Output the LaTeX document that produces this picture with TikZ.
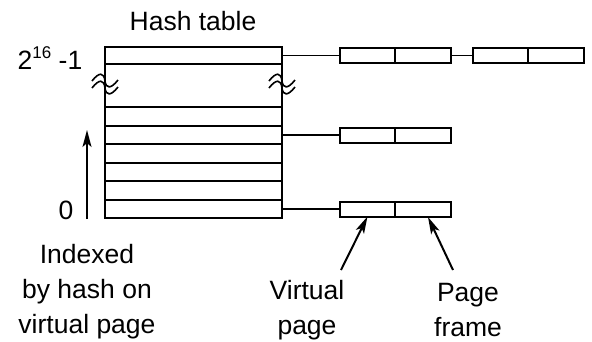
\documentclass[tikz,border=0pt]{standalone}
\usepackage{fontspec}
\setmainfont{Liberation Sans}
\usetikzlibrary{arrows.meta}

\begin{document}
\begin{tikzpicture}[x=1pt, y=-1pt, >={Stealth[length=17pt,width=9pt,inset=4pt]},
    every node/.style={font=\fontsize{26.5}{35}\selectfont},
    tabrow/.style={draw, line width=2pt, minimum width=177pt, inner sep=0pt, outer sep=0pt},
    cell/.style={draw, line width=2pt, minimum width=55.5pt, minimum height=15pt, inner sep=0pt, outer sep=0pt},
    link/.style={line width=1.7pt},
    arr/.style={->, line width=2pt}]
    \useasboundingbox (0,0) rectangle (592,341);

    % 1. Bang bam: hang tren cung va cac hang duoi
    \node[tabrow, minimum height=17pt] (top) at (193.5,55.5) {};
    \draw[line width=2pt] (top.south west) -- (105,107) (top.south east) -- (282,107);
    \foreach \i/\y in {0/209, 1/190.5, 2/172, 3/153.5, 4/135, 5/116.5} {
        \node[tabrow, minimum height=18.5pt] (r\i) at (193.5,\y) {};
    }

    % dau ngat (hai dau song)
    \foreach \x in {105, 282} {
        \foreach \dy in {0, 7} {
            \draw[line width=1.6pt] (\x-13,81+\dy) .. controls (\x-6,72+\dy) and (\x-1,72+\dy) .. (\x,81+\dy)
                .. controls (\x+1,89+\dy) and (\x+6,89+\dy) .. (\x+13,80+\dy);
        }
    }

    % 2. Cac muc: trang ao | khung trang
    \node[cell] (a1) at (367.5,55.5) {};
    \node[cell, anchor=west] (b1) at (a1.east) {};
    \node[cell] (c1) at (500.5,55.5) {};
    \node[cell, anchor=west] (d1) at (c1.east) {};
    \node[cell] (a2) at (367.5,135) {};
    \node[cell, anchor=west] (b2) at (a2.east) {};
    \node[cell] (a3) at (367.5,209) {};
    \node[cell, anchor=west] (b3) at (a3.east) {};

    \draw[link] (top.east) -- (a1.west);
    \draw[link] (b1.east) -- (c1.west);
    \draw[link] (r4.east) -- (a2.west);
    \draw[link] (r0.east) -- (a3.west);

    % 3. Nhan
    \node (title) at (193,21) {Hash table};
    \node (hi) at (50,58) {2\raisebox{0.42em}{\fontsize{17}{17}\selectfont 16} -1};
    \node (lo) at (66,210) {0};
    \node[align=center] (idx) at (87,292) {Indexed\\by hash on\\virtual page};
    \node[align=center] (vlab) at (307,310) {Virtual\\page};
    \node[align=center] (plab) at (468,310) {Page\\frame};

    % 4. Mui ten
    \coordinate (itail) at (87,219);
    \coordinate (ihead) at (87,130);
    \draw[arr] (itail) -- (ihead);
    \coordinate (vtail) at (341,270);
    \draw[arr] (vtail) -- (a3.south);
    \coordinate (ptail) at (453,270);
    \coordinate (phead) at (428,217);
    \draw[arr] (ptail) -- (phead);
\end{tikzpicture}
\end{document}
